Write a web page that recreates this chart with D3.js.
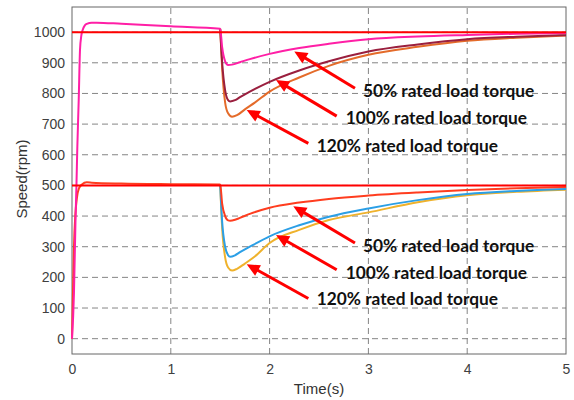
<!DOCTYPE html>
<html>
<head>
<meta charset="utf-8">
<script src="https://cdn.jsdelivr.net/npm/d3@7"></script>
<style>
  body { margin: 0; background: #fff; }
  svg { display: block; }
</style>
</head>
<body>
<script>
// ticks
const xTicks = [0, 1, 2, 3, 4, 5];
const yTicks = [0, 100, 200, 300, 400, 500, 600, 700, 800, 900, 1000];

// reference speeds (rpm)
const refSpeeds = [1000, 500];

// 1000 rpm group, [time s, speed rpm]
const hi50 = [[0,0],[0.02,150],[0.035,380],[0.045,500],[0.054,626],[0.068,779],[0.081,942],[0.095,990],[0.108,1007],[0.13,1022],[0.15,1027],[0.2,1031],[0.25,1031],[0.5,1027],[1.0,1019],[1.5,1011],
  [1.52,950],[1.55,905],[1.58,893],[1.62,894],[1.7,902],[1.8,912],[2.0,929],[2.3,948],[2.6,962],[3.0,977],[3.5,986],[4.0,991],[4.5,995],[5.0,997]];
const hi100 = [[1.5,1011],[1.52,900],[1.55,810],[1.58,778],[1.6,774],[1.65,778],[1.7,788],[1.8,806],[2.0,838],[2.3,875],[2.6,905],[3.0,937],[3.5,960],[4.0,977],[4.5,985],[5.0,990]];
const hi120 = [[1.5,1011],[1.52,880],[1.55,770],[1.58,735],[1.62,724],[1.67,729],[1.75,748],[1.85,770],[2.0,806],[2.3,852],[2.6,890],[3.0,926],[3.5,952],[4.0,972],[4.5,982],[5.0,989]];

// 500 rpm group
const lo50 = [[0,0],[0.01,150],[0.02,300],[0.033,400],[0.05,460],[0.07,490],[0.1,503],[0.15,510],[0.2,509],[0.5,506],[1.0,504],[1.5,503],
  [1.52,440],[1.55,400],[1.58,386],[1.6,385],[1.65,388],[1.7,394],[1.8,407],[2.0,427],[2.3,444],[2.6,456],[3.0,467],[3.5,477],[4.0,485],[4.5,491],[5.0,495]];
const lo100 = [[1.5,503],[1.52,380],[1.55,300],[1.58,272],[1.6,267],[1.65,272],[1.7,282],[1.8,300],[2.0,334],[2.3,370],[2.6,398],[3.0,425],[3.5,452],[4.0,472],[4.5,482],[5.0,488]];
const lo120 = [[1.5,503],[1.52,360],[1.55,265],[1.58,232],[1.62,222],[1.67,228],[1.75,245],[1.85,268],[2.0,312],[2.3,355],[2.6,387],[3.0,412],[3.5,445],[4.0,468],[4.5,479],[5.0,486]];

// annotation labels, arrow tip / tail and text anchor in data units
const labels = ["50% rated load torque", "100% rated load torque", "120% rated load torque"];
const arrowTips = [[2.25,937],[2.065,844],[1.768,746],[2.24,432],[2.065,338],[1.768,243]];
const arrowTails = [[2.864,817],[2.679,726],[2.392,637],[2.864,312],[2.679,225],[2.392,131]];
const textAt = [[2.945,808],[2.77,719],[2.477,629],[2.945,302],[2.77,214],[2.477,128]];

const W = 574, H = 400;
const m = { left: 72, right: 8, top: 7, bottom: 46 };

const svg = d3.select("body").append("svg")
    .attr("width", W)
    .attr("height", H);

const x = d3.scaleLinear().domain([0, 5]).range([m.left, W - m.right]);
const y = d3.scaleLinear().domain([-50, 1082]).range([H - m.bottom, m.top]);

// grid
svg.append("g").selectAll("line")
    .data(yTicks)
    .join("line")
    .attr("x1", x(0)).attr("x2", x(5))
    .attr("y1", d => y(d)).attr("y2", d => y(d))
    .attr("stroke", "#858585")
    .attr("stroke-dasharray", "6,4");

svg.append("g").selectAll("line")
    .data(xTicks.slice(1, -1))
    .join("line")
    .attr("x1", d => x(d)).attr("x2", d => x(d))
    .attr("y1", y.range()[0]).attr("y2", y.range()[1])
    .attr("stroke", "#858585")
    .attr("stroke-dasharray", "6,4");

// axes
const xAxis = svg.append("g")
    .attr("transform", `translate(0,${y.range()[0]})`)
    .call(d3.axisBottom(x).tickValues(xTicks).tickFormat(d3.format("d")).tickSize(0).tickPadding(10));
const yAxis = svg.append("g")
    .attr("transform", `translate(${m.left},0)`)
    .call(d3.axisLeft(y).tickValues(yTicks).tickFormat(d3.format("d")).tickSize(0).tickPadding(7));
[xAxis, yAxis].forEach(g => {
    g.select(".domain").remove();
    g.selectAll("text")
        .attr("font-family", "Liberation Sans, Arial, sans-serif")
        .attr("font-size", 14)
        .attr("fill", "#404040");
});

// box
svg.append("rect")
    .attr("x", x(0)).attr("y", y.range()[1])
    .attr("width", x(5) - x(0))
    .attr("height", y.range()[0] - y.range()[1])
    .attr("fill", "none")
    .attr("stroke", "#666")
    .attr("stroke-width", 1);

// curves
const line = d3.line()
    .x(d => x(d[0]))
    .y(d => y(d[1]))
    .curve(d3.curveMonotoneX);

const series = [
    { data: lo120, color: "#efb22c" },
    { data: lo100, color: "#2b9fe6" },
    { data: lo50, color: "#ff3d1f" },
    { data: hi120, color: "#e46b2a" },
    { data: hi100, color: "#9a1f3e" },
    { data: hi50, color: "#ff1fa6" }
];

series.forEach(s =>
    svg.append("path")
        .datum(s.data)
        .attr("d", line)
        .attr("fill", "none")
        .attr("stroke", s.color)
        .attr("stroke-width", 2)
);

// reference lines
refSpeeds.forEach(r =>
    svg.append("line")
        .attr("x1", x(0)).attr("x2", x(5))
        .attr("y1", y(r)).attr("y2", y(r))
        .attr("stroke", "#ff0000")
        .attr("stroke-width", 2)
);

// arrows
for (let i = 0; i < arrowTips.length; i++) {
    let tx = x(arrowTails[i][0]), ty = y(arrowTails[i][1]);
    let hx = x(arrowTips[i][0]), hy = y(arrowTips[i][1]);
    let ang = Math.atan2(hy - ty, hx - tx);
    let len = 13, hw = 6;
    let bx = hx - len * Math.cos(ang), by = hy - len * Math.sin(ang);

    svg.append("line")
        .attr("x1", tx).attr("y1", ty)
        .attr("x2", bx + 2 * Math.cos(ang)).attr("y2", by + 2 * Math.sin(ang))
        .attr("stroke", "#ff0000")
        .attr("stroke-width", 3);

    svg.append("polygon")
        .attr("points", [
            [hx, hy],
            [bx + hw * Math.sin(ang), by - hw * Math.cos(ang)],
            [bx - hw * Math.sin(ang), by + hw * Math.cos(ang)]
        ].map(p => p.join(",")).join(" "))
        .attr("fill", "#ff0000");
}

// labels
textAt.forEach((p, i) =>
    svg.append("text")
        .attr("x", x(p[0]))
        .attr("y", y(p[1]))
        .attr("dy", "0.35em")
        .attr("font-family", "Lato, sans-serif")
        .attr("font-weight", "bold")
        .attr("font-size", 17.3)
        .attr("fill", "#111")
        .text(labels[i % 3])
);

// axis titles
svg.append("text")
    .attr("x", (x(0) + x(5)) / 2)
    .attr("y", 394)
    .attr("text-anchor", "middle")
    .attr("font-family", "Liberation Sans, Arial, sans-serif")
    .attr("font-size", 15)
    .attr("fill", "#333")
    .text("Time(s)");

svg.append("text")
    .attr("transform", "translate(27,179) rotate(-90)")
    .attr("text-anchor", "middle")
    .attr("font-family", "Liberation Sans, Arial, sans-serif")
    .attr("font-size", 15)
    .attr("fill", "#333")
    .text("Speed(rpm)");
</script>
</body>
</html>
